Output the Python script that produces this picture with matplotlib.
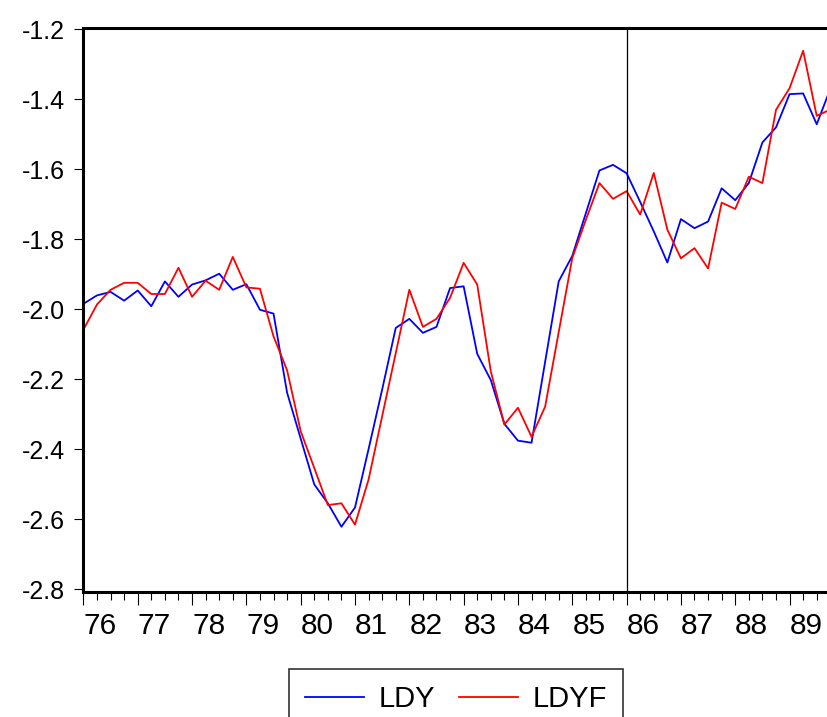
import numpy as np
import matplotlib
matplotlib.use("Agg")
import matplotlib.pyplot as plt
from matplotlib.ticker import FixedLocator, FormatStrFormatter

plt.rcParams['font.family'] = ['Liberation Sans', 'DejaVu Sans']
plt.rcParams['axes.unicode_minus'] = False

# quarterly observations, 1976Q1 .. 1989Q4
years = list(range(76, 90))
ldy = [-1.985, -1.961, -1.951, -1.976, -1.947, -1.992, -1.921, -1.965,
       -1.930, -1.918, -1.899, -1.945, -1.929, -2.002, -2.013, -2.239,
       -2.370, -2.501, -2.555, -2.622, -2.567, -2.400, -2.230, -2.054,
       -2.028, -2.068, -2.051, -1.940, -1.935, -2.128, -2.203, -2.328,
       -2.376, -2.382, -2.151, -1.921, -1.848, -1.726, -1.604, -1.588,
       -1.612, -1.694, -1.778, -1.867, -1.743, -1.769, -1.750, -1.655,
       -1.689, -1.640, -1.524, -1.481, -1.386, -1.384, -1.472, -1.371]
ldyf = [-2.059, -1.987, -1.945, -1.925, -1.925, -1.957, -1.957, -1.882,
        -1.965, -1.919, -1.945, -1.851, -1.938, -1.942, -2.078, -2.175,
        -2.349, -2.454, -2.560, -2.555, -2.616, -2.487, -2.306, -2.126,
        -1.945, -2.051, -2.028, -1.968, -1.868, -1.930, -2.178, -2.330,
        -2.282, -2.365, -2.279, -2.066, -1.854, -1.745, -1.640, -1.685,
        -1.663, -1.730, -1.611, -1.773, -1.855, -1.826, -1.884, -1.696,
        -1.714, -1.622, -1.640, -1.431, -1.369, -1.262, -1.448, -1.430]
break_obs = 40  # 1986Q1
yticks = [-1.2, -1.4, -1.6, -1.8, -2.0, -2.2, -2.4, -2.6, -2.8]

t = np.arange(len(ldy))

W, H = 828, 717
fig = plt.figure(figsize=(W / 100, H / 100), dpi=100)
left, right, top, bottom = 83.4, 830.3, 28, 591.5
ax = fig.add_axes([left / W, 1 - bottom / H, (right - left) / W, (bottom - top) / H])

ax.plot(t, ldy, color='#0000FF', lw=1.3, label='LDY')
ax.plot(t, ldyf, color='#FF0000', lw=1.3, label='LDYF')
ax.axvline(break_obs, color='black', lw=0.9)

ax.set_xlim(0, len(ldy) - 1)
ax.set_ylim(-2.807, -1.197)

for s in ['left', 'bottom', 'top']:
    ax.spines[s].set_linewidth(2.2)
ax.spines['right'].set_visible(False)

ax.yaxis.set_major_locator(FixedLocator(yticks))
ax.yaxis.set_major_formatter(FormatStrFormatter('%.1f'))
ax.tick_params(axis='y', direction='out', length=6.5, width=0.8,
               labelsize=18, pad=7)

ax.set_xticks(4 * np.arange(len(years)))
ax.set_xticklabels([str(y) for y in years])
ax.xaxis.set_minor_locator(FixedLocator([i for i in t if i % 4]))
ax.tick_params(axis='x', which='major', direction='out', length=9,
               width=0.8, labelsize=21.5, pad=6)
ax.tick_params(axis='x', which='minor', direction='out', length=6,
               width=0.8)
for lab in ax.get_xticklabels():
    lab.set_horizontalalignment('left')

leg = fig.legend(loc='upper center', bbox_to_anchor=(456 / W, 1 - 669 / H),
                 ncol=2, fontsize=21, frameon=True, fancybox=False,
                 handlelength=2.0, handletextpad=0.5, columnspacing=0.83,
                 borderpad=0.55, borderaxespad=0)
leg.get_frame().set_edgecolor('black')
leg.get_frame().set_linewidth(1.2)

fig.savefig('out.png', dpi=100)
